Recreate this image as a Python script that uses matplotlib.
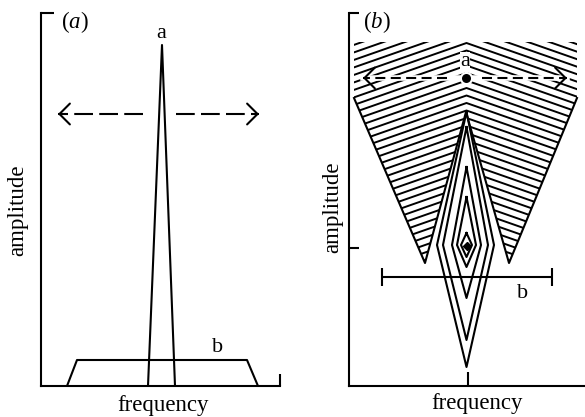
import numpy as np
import matplotlib
matplotlib.use('Agg')
import matplotlib.pyplot as plt
from matplotlib.patches import Polygon

plt.rcParams['font.family'] = ['Liberation Serif', 'DejaVu Serif']
plt.rcParams['mathtext.fontset'] = 'custom'
plt.rcParams['mathtext.rm'] = 'Liberation Serif'
plt.rcParams['mathtext.it'] = 'Liberation Serif:italic'

# ---- panel (a): narrow peak a and broad band b (frequency, amplitude) ----
peak_a_freq = [107, 121, 134]
peak_a_amp = [0, 341, 0]
band_b_freq = [26, 36, 206, 217]
band_b_amp = [0, 26, 26, 0]
arrow_a_amp = 272
arrow_a_left = [102, 17]
arrow_a_right = [135, 218]

# ---- panel (b): hatched wedge, nested diamonds, range bar b ----
wedge_freq = [5, 5, 228, 228, 160, 117, 76, 5]
wedge_amp = [288, 344, 344, 288, 123, 274, 123, 288]
wedge_edge_freq = [5, 76, 117, 160, 228]
wedge_edge_amp = [288, 123, 274, 123, 288]
diamond_top = [274, 259, 219, 189, 153]
diamond_bottom = [19, 46, 88, 119, 129]
diamond_left = [88, 94, 103, 108, 112]
diamond_right = [145, 139, 132, 127, 123]
diamond_mid = 141
diamond_center = 117.5
dot_freq, dot_amp = 117, 308
arrow_b_left = [98, 14]
arrow_b_right = [133, 218]
bar_b_center, bar_b_half, bar_b_amp = 118, 85, 109

hatch_slope = 0.35
hatch_step = 7.5
hatch_apex = 343

LW = 1.5

fig = plt.figure(figsize=(5.85, 4.17), dpi=100)
W, H = 585, 417


def make_axes(x0, y_top, x1, y_bot):
    ax = fig.add_axes([x0 / W, 1 - y_bot / H, (x1 - x0) / W, (y_bot - y_top) / H])
    for s in ['top', 'right']:
        ax.spines[s].set_visible(False)
    for s in ['left', 'bottom']:
        ax.spines[s].set_linewidth(LW)
    ax.patch.set_alpha(0)
    return ax


def dashed_arrow(ax, xs, y, dash):
    ax.plot(xs, [y, y], color='k', lw=LW, linestyle=(0, dash), solid_capstyle='butt')
    d = 1 if xs[1] > xs[0] else -1
    ax.annotate('', xy=(xs[1], y), xytext=(xs[1] - d * 3, y),
                arrowprops=dict(arrowstyle='->, head_length=7.5, head_width=7.5',
                                lw=LW, color='k', shrinkA=0, shrinkB=0,
                                mutation_scale=1))


# panel a
ax1 = make_axes(41, 13, 280, 386)
ax1.set_xlim(0, 239)
ax1.set_ylim(0, 373)
ax1.set_xticks([239])
ax1.set_yticks([373])
ax1.tick_params(direction='in', length=9, width=LW, labelbottom=False, labelleft=False)
ax1.plot(peak_a_freq, peak_a_amp, color='k', lw=LW)
ax1.plot(band_b_freq, band_b_amp, color='k', lw=LW)
dashed_arrow(ax1, arrow_a_left, arrow_a_amp, (9, 3))
dashed_arrow(ax1, arrow_a_right, arrow_a_amp, (9, 3))
ax1.text(120, 353, 'a', fontsize=16, ha='center', va='center')
ax1.text(177, 38, 'b', fontsize=16, ha='center', va='center')

# panel b
ax2 = make_axes(349, 13, 585, 386)
ax2.set_xlim(0, 236)
ax2.set_ylim(0, 373)
ax2.set_xticks([119])
ax2.set_yticks([138, 373])
ax2.tick_params(axis='x', direction='in', length=10, width=LW, labelbottom=False)
ax2.tick_params(axis='y', direction='in', length=7, width=LW, labelleft=False)

clip = Polygon(np.column_stack([wedge_freq, wedge_amp]), closed=True,
               facecolor='none', edgecolor='none')
ax2.add_patch(clip)
for c in np.arange(hatch_apex + 6 * hatch_step, 120, -hatch_step):
    fx = [wedge_freq[0], diamond_center, wedge_freq[2]]
    fy = [c - hatch_slope * (diamond_center - fx[0]), c,
          c - hatch_slope * (fx[2] - diamond_center)]
    ln, = ax2.plot(fx, fy, color='k', lw=1.4)
    ln.set_clip_path(clip)
ax2.plot(wedge_edge_freq, wedge_edge_amp, color='k', lw=LW)

for t, b, l, r in zip(diamond_top, diamond_bottom, diamond_left, diamond_right):
    ax2.plot([diamond_center, r, diamond_center, l, diamond_center],
             [t, diamond_mid, b, diamond_mid, t], color='k', lw=LW)
ax2.plot([diamond_center], [diamond_mid - 1], marker='D', ms=4, color='k')

ax2.errorbar([bar_b_center], [bar_b_amp], xerr=[bar_b_half], fmt='none',
             ecolor='k', elinewidth=LW, capsize=6.5, capthick=LW)

ax2.plot([arrow_b_left[1], arrow_b_right[1]], [dot_amp, dot_amp], color='white', lw=4)
dashed_arrow(ax2, arrow_b_left, dot_amp, (4.8, 2.6))
dashed_arrow(ax2, arrow_b_right, dot_amp, (4.8, 2.6))
ax2.plot([dot_freq], [dot_amp], 'o', ms=8, color='k', mec='white', mew=1.5)
ax2.text(116, 324, 'a', fontsize=16, ha='center', va='center',
         bbox=dict(fc='white', ec='none', pad=0.3))
ax2.text(174, 93, 'b', fontsize=16, ha='center', va='center')

fig.text(18 / W, 1 - 210 / H, 'amplitude', fontsize=16.5, rotation=90, ha='center', va='center')
fig.text(333 / W, 1 - 207 / H, 'amplitude', fontsize=16.5, rotation=90, ha='center', va='center')
fig.text(163 / W, 1 - 405 / H, 'frequency', fontsize=16.5, ha='center', va='center')
fig.text(477 / W, 1 - 403 / H, 'frequency', fontsize=16.5, ha='center', va='center')
fig.text(75 / W, 1 - 22 / H, r'($\mathit{a}$)', fontsize=16.5, ha='center', va='center')
fig.text(377 / W, 1 - 22 / H, r'($\mathit{b}$)', fontsize=16.5, ha='center', va='center')

fig.savefig('out.png', dpi=100)
